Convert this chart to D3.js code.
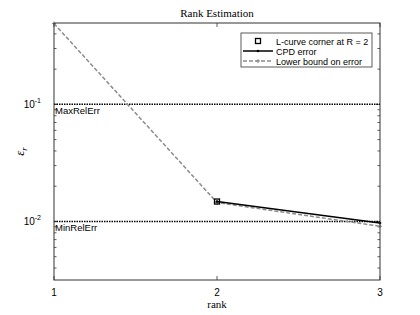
<!DOCTYPE html>
<html><head><meta charset="utf-8">
<script src="https://cdn.jsdelivr.net/npm/d3@7"></script>
<style>body{margin:0;background:#fff}svg{display:block}</style>
</head><body>
<script>
const ranks = [1, 2, 3];
const cpdRanks = [2, 3];
const cpdError = [0.0148, 0.0097];
const lowerBound = [0.49, 0.0145, 0.0091];
const cornerRank = [2];
const cornerValue = [0.0148];
const maxRelErr = 0.1;
const minRelErr = 0.01;
const xTicks = [1, 2, 3];
const yMajorTicks = [0.1, 0.01];
const legendLabels = ["L-curve corner at R = 2", "CPD error", "Lower bound on error"];

const W = 420, H = 315;
const m = {l: 54, r: 40, t: 23, b: 35};
const svg = d3.select("body").append("svg").attr("width", W).attr("height", H);
const x = d3.scaleLinear().domain([1, 3]).range([m.l, W - m.r]);
const y = d3.scaleLog().domain([Math.pow(10, -2.5), Math.pow(10, -0.305)]).range([H - m.b, m.t]);
const x0 = m.l, x1 = W - m.r, y0 = H - m.b, y1 = m.t;

// minor ticks
const minor = [];
for (let e = -3; e <= 0; e++) for (let k = 2; k <= 9; k++) {
  const v = k * Math.pow(10, e);
  if (v >= y.domain()[0] && v <= y.domain()[1]) minor.push(v);
}
const g = svg.append("g").attr("stroke", "#333").attr("stroke-width", 0.8);
minor.forEach(v => {
  g.append("line").attr("x1", x0).attr("x2", x0 + 2.5).attr("y1", y(v)).attr("y2", y(v));
  g.append("line").attr("x1", x1).attr("x2", x1 - 2.5).attr("y1", y(v)).attr("y2", y(v));
});
yMajorTicks.forEach(v => {
  g.append("line").attr("x1", x0).attr("x2", x0 + 4).attr("y1", y(v)).attr("y2", y(v));
  g.append("line").attr("x1", x1).attr("x2", x1 - 4).attr("y1", y(v)).attr("y2", y(v));
});
xTicks.forEach(v => {
  g.append("line").attr("x1", x(v)).attr("x2", x(v)).attr("y1", y0).attr("y2", y0 - 4);
  g.append("line").attr("x1", x(v)).attr("x2", x(v)).attr("y1", y1).attr("y2", y1 + 4);
});

// reference lines
[maxRelErr, minRelErr].forEach(v => {
  svg.append("line").attr("x1", x0).attr("x2", x1).attr("y1", y(v)).attr("y2", y(v))
    .attr("stroke", "#000").attr("stroke-width", 1.5).attr("stroke-dasharray", "1.5,1");
});
svg.append("text").attr("x", x0 + 1).attr("y", y(maxRelErr) + 10).text("MaxRelErr")
  .attr("font-family", "Liberation Sans, Arial, sans-serif").attr("font-size", 9.5).attr("fill", "#000");
svg.append("text").attr("x", x0 + 1).attr("y", y(minRelErr) + 10).text("MinRelErr")
  .attr("font-family", "Liberation Sans, Arial, sans-serif").attr("font-size", 9.5).attr("fill", "#000");

// lower bound
const lb = ranks.map((r, i) => [r, lowerBound[i]]);
const line = d3.line().x(d => x(d[0])).y(d => y(d[1]));
svg.append("path").attr("d", line(lb)).attr("fill", "none").attr("stroke", "#8c8c8c")
  .attr("stroke-width", 1.5).attr("stroke-dasharray", "4,2");
lb.forEach(d => {
  svg.append("path").attr("d", `M${x(d[0])-2},${y(d[1])}h4M${x(d[0])},${y(d[1])-2}v4`).attr("stroke", "#8c8c8c").attr("stroke-width", 1);
});
// cpd error
const cpd = cpdRanks.map((r, i) => [r, cpdError[i]]);
svg.append("path").attr("d", line(cpd)).attr("fill", "none").attr("stroke", "#000").attr("stroke-width", 1.5);
cpd.forEach(d => svg.append("circle").attr("cx", x(d[0])).attr("cy", y(d[1])).attr("r", 1.3).attr("fill", "#000"));
// corner
cornerRank.forEach((r, i) => {
  svg.append("rect").attr("x", x(r) - 2.5).attr("y", y(cornerValue[i]) - 2.5).attr("width", 5).attr("height", 5)
    .attr("fill", "none").attr("stroke", "#000").attr("stroke-width", 1.3);
});

// axes box
svg.append("rect").attr("x", x0).attr("y", y1).attr("width", x1 - x0).attr("height", y0 - y1)
  .attr("fill", "none").attr("stroke", "#333").attr("stroke-width", 1);

// tick labels
const sans = "Liberation Sans, Arial, sans-serif";
xTicks.forEach(v => svg.append("text").attr("x", x(v)).attr("y", y0 + 16).attr("text-anchor", "middle")
  .attr("font-family", sans).attr("font-size", 10).text(v));
yMajorTicks.forEach(v => {
  const t = svg.append("text").attr("x", x0 - 13).attr("y", y(v) + 4).attr("text-anchor", "end")
    .attr("font-family", sans).attr("font-size", 10);
  t.append("tspan").text("10");
  t.append("tspan").attr("font-size", 7).attr("dy", -5).text(String(Math.round(Math.log10(v))));
});
svg.selectAll("text.dummy");
// titles
const serif = "Liberation Serif, Times New Roman, serif";
svg.append("text").attr("x", (x0 + x1) / 2).attr("y", 17).attr("text-anchor", "middle")
  .attr("font-family", serif).attr("font-size", 11).text("Rank Estimation");
svg.append("text").attr("x", (x0 + x1) / 2).attr("y", 308).attr("text-anchor", "middle")
  .attr("font-family", serif).attr("font-size", 11).text("rank");
const yl = svg.append("text").attr("transform", `translate(24,${(y0 + y1) / 2}) rotate(-90)`)
  .attr("text-anchor", "middle").attr("font-family", serif).attr("font-size", 13).attr("font-style", "italic");
yl.append("tspan").text("ε");
yl.append("tspan").attr("font-size", 9).attr("dy", 3).text("r");

// legend
const lx = 241, ly = 33, lw = 131, lh = 34;
svg.append("rect").attr("x", lx).attr("y", ly).attr("width", lw).attr("height", lh)
  .attr("fill", "#fff").attr("stroke", "#333").attr("stroke-width", 0.8);
const rows = [ly + 8, ly + 18, ly + 28];
svg.append("rect").attr("x", 258 - 2.5).attr("y", rows[0] - 2.5).attr("width", 5).attr("height", 5)
  .attr("fill", "none").attr("stroke", "#000").attr("stroke-width", 1.3);
svg.append("line").attr("x1", 243).attr("x2", 273).attr("y1", rows[1]).attr("y2", rows[1]).attr("stroke", "#000").attr("stroke-width", 1.5);
svg.append("circle").attr("cx", 258).attr("cy", rows[1]).attr("r", 1.3).attr("fill", "#000");
svg.append("line").attr("x1", 243).attr("x2", 273).attr("y1", rows[2]).attr("y2", rows[2]).attr("stroke", "#8c8c8c").attr("stroke-width", 1.5).attr("stroke-dasharray", "4,2");
svg.append("path").attr("d", `M256,${rows[2]}h4M258,${rows[2]-2}v4`).attr("stroke", "#8c8c8c");
legendLabels.forEach((t, i) => svg.append("text").attr("x", 276).attr("y", rows[i] + 3.5)
  .attr("font-family", sans).attr("font-size", 9).text(t));
</script>
</body></html>
